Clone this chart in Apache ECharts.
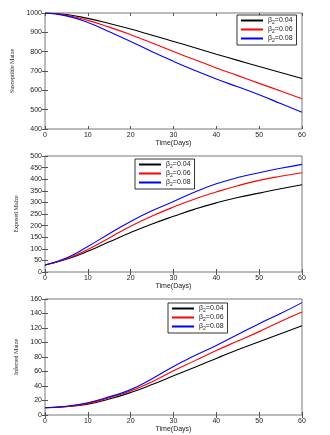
<!DOCTYPE html>
<html>
<head>
<meta charset="utf-8">
<script src="https://cdn.jsdelivr.net/npm/echarts@6/dist/echarts.min.js"></script>
<style>html,body{margin:0;padding:0;background:#fff;}#main{width:330px;height:435px;}</style>
</head>
<body>
<div id="main"></div>
<script>
var days = [0, 5, 10, 15, 20, 25, 30, 35, 40, 45, 50, 55, 60];
var betaNames = ['β2=0.04', 'β2=0.06', 'β2=0.08'];
var lineColors = ['#000000', '#ff0000', '#0000ff'];

// Susceptible
var sus004 = [1000, 992, 972, 946, 917, 885, 853, 820, 787, 755, 723, 692, 661];
var sus006 = [1000, 988, 962, 927, 888, 845, 801, 758, 716, 676, 636, 597, 557];
var sus008 = [1000, 985, 951, 903, 853, 800, 750, 703, 659, 618, 577, 532, 487];
// Exposed
var exp004 = [30, 55, 89, 130, 170, 207, 240, 271, 298, 321, 340, 359, 376];
var exp006 = [30, 57, 97, 147, 197, 241, 280, 315, 345, 372, 395, 413, 428];
var exp008 = [30, 60, 110, 165, 218, 264, 304, 345, 380, 407, 428, 447, 464];
// Infected
var inf004 = [10, 11.5, 15, 22, 31, 42, 54, 66, 78, 90, 101, 112, 123];
var inf006 = [10, 11.7, 16, 24, 33, 46, 61, 75, 89, 102, 115, 129, 142];
var inf008 = [10, 12, 17, 25, 35, 50, 67, 82, 96, 111, 126, 140, 155];

var panels = [
    {title: 'Susceptible Maize', data: [sus004, sus006, sus008], min: 400, max: 1000, interval: 100, top: 13,
     legend: {left: 237, top: 15}},
    {title: 'Exposed Maize', data: [exp004, exp006, exp008], min: 0, max: 500, interval: 50, top: 156,
     legend: {left: 135, top: 159}},
    {title: 'Infected Maize', data: [inf004, inf006, inf008], min: 0, max: 160, interval: 20, top: 299,
     legend: {left: 168, top: 303}}
];

function pairs(arr) {
    var res = [];
    for (var i = 0; i < arr.length; i++) res.push([days[i], arr[i]]);
    return res;
}

var grid = [], xAxis = [], yAxis = [], series = [], legend = [];
var tickFont = {fontSize: 7, color: '#222', fontFamily: 'Liberation Sans'};

panels.forEach(function (p, k) {
    grid.push({left: 45, right: 28, top: p.top, height: 116, show: true, borderColor: '#555', borderWidth: 0.8});
    // bottom + top x axes
    xAxis.push({gridIndex: k, type: 'value', min: 0, max: 60, interval: 10,
        name: 'Time(Days)', nameLocation: 'middle', nameGap: 9,
        nameTextStyle: {fontSize: 7, color: '#222', fontFamily: 'Liberation Sans'},
        axisLine: {show: false}, axisTick: {inside: true, length: 3, lineStyle: {color: '#555'}},
        axisLabel: Object.assign({margin: 3}, tickFont), splitLine: {show: false}});
    xAxis.push({gridIndex: k, type: 'value', min: 0, max: 60, interval: 10, position: 'top',
        axisLine: {show: false}, axisTick: {inside: true, length: 3, lineStyle: {color: '#555'}},
        axisLabel: {show: false}, splitLine: {show: false}});
    yAxis.push({gridIndex: k, type: 'value', min: p.min, max: p.max, interval: p.interval,
        name: p.title, nameLocation: 'middle', nameGap: 24, nameRotate: 90,
        nameTextStyle: {fontSize: 6, color: '#222', fontFamily: 'Liberation Sans Narrow'},
        axisLine: {show: false}, axisTick: {inside: true, length: 3, lineStyle: {color: '#555'}},
        axisLabel: Object.assign({margin: 3, formatter: function (v) { return String(v); }}, tickFont),
        splitLine: {show: false}});
    yAxis.push({gridIndex: k, type: 'value', min: p.min, max: p.max, interval: p.interval, position: 'right',
        axisLine: {show: false}, axisTick: {inside: true, length: 3, lineStyle: {color: '#555'}},
        axisLabel: {show: false}, splitLine: {show: false}});
    p.data.forEach(function (d, j) {
        series.push({type: 'line', name: betaNames[j], xAxisIndex: k * 2, yAxisIndex: k * 2,
            data: pairs(d), smooth: 0.5, symbol: 'none',
            lineStyle: {color: lineColors[j], width: 1.1}, itemStyle: {color: lineColors[j]}});
    });
    legend.push({left: p.legend.left, top: p.legend.top, orient: 'vertical', data: betaNames,
        backgroundColor: '#fff', borderColor: '#000', borderWidth: 0.8, padding: [2, 4, 2, 4],
        itemGap: 1, itemWidth: 22, itemHeight: 2, icon: 'rect',
        formatter: function (name) { return '{a|β}{s|2}{a|' + name.slice(2) + '}'; },
        textStyle: {rich: {a: {fontSize: 7, color: '#222', fontFamily: 'Liberation Sans'},
                           s: {fontSize: 5, color: '#222', padding: [4, 0, 0, 0], fontFamily: 'Liberation Sans'}}}});
});

var myChart = echarts.init(document.getElementById('main'));
myChart.setOption({
    animation: false,
    grid: grid,
    xAxis: xAxis,
    yAxis: yAxis,
    legend: legend,
    series: series
});
</script>
</body>
</html>
